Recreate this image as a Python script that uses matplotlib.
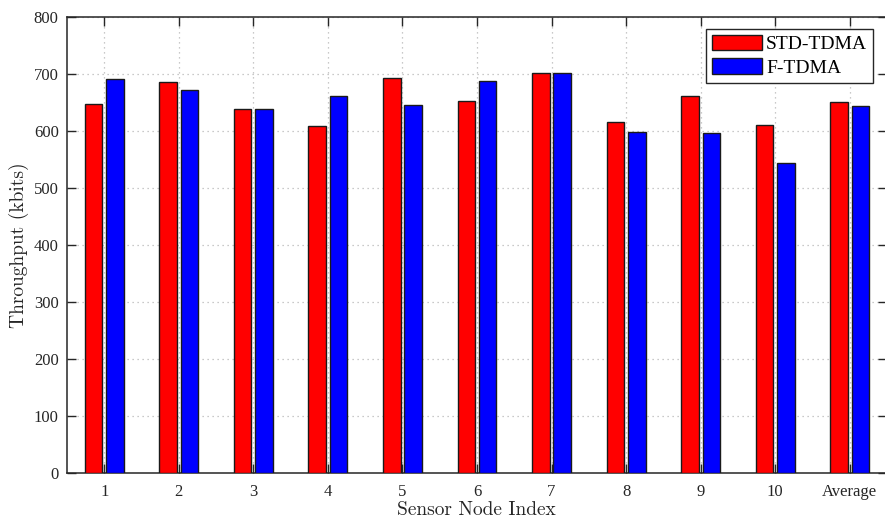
import matplotlib
matplotlib.use("Agg")
import matplotlib.pyplot as plt
import numpy as np

categories = ["1", "2", "3", "4", "5", "6", "7", "8", "9", "10", "Average"]
std_tdma = [647, 686, 639, 609, 693, 653, 702, 615, 662, 610, 651]
f_tdma = [691, 672, 639, 661, 646, 688, 701, 599, 596, 544, 643]
yticks = [0, 100, 200, 300, 400, 500, 600, 700, 800]

W, H = 885, 519
fig = plt.figure(figsize=(W / 100, H / 100), dpi=100)
ax_left, ax_right, ax_top, ax_bottom = 67, 887, 17, 473
ax = fig.add_axes([ax_left / W, (H - ax_bottom) / H, (ax_right - ax_left) / W,
                   (ax_bottom - ax_top) / H])

x = np.arange(1, len(categories) + 1)
off = 0.143
bw = 0.235
ax.bar(x - off, std_tdma, bw, color="#ff0000", edgecolor="#1a1a1a", linewidth=1.0,
       label="STD-TDMA", zorder=3)
ax.bar(x + off, f_tdma, bw, color="#0000ff", edgecolor="#1a1a1a", linewidth=1.0,
       label="F-TDMA", zorder=3)

ax.set_xlim(0.5, 11.5)
ax.set_ylim(0, 800)
ax.set_xticks(x)
ax.set_xticklabels(categories)
ax.set_yticks(yticks)

tick_font = "Liberation Serif"
for lab in ax.get_xticklabels() + ax.get_yticklabels():
    lab.set_fontfamily(tick_font)
    lab.set_fontsize(12)
    lab.set_color("#262626")

ax.tick_params(direction="in", length=6.5, width=1.0, top=True, right=True,
               colors="#262626", pad=6)
ax.tick_params(axis="x", pad=8)

for s in ax.spines.values():
    s.set_color("#262626")
    s.set_linewidth(1.1)

ax.grid(True, linestyle=(0, (1, 3)), color="#b8b8b8", linewidth=0.9)
ax.set_axisbelow(True)

aw = ax_right - ax_left
ah = ax_bottom - ax_top
ax.set_xlabel("Sensor Node Index", fontfamily="cmr10", fontsize=14, color="#262626",
              va="top")
ax.xaxis.set_label_coords((476 - ax_left) / aw, (ax_bottom - 501) / ah)
ax.set_ylabel("Throughput (kbits)", fontfamily="cmr10", fontsize=14, color="#262626",
              va="center")
ax.yaxis.set_label_coords((19 - ax_left) / aw, (ax_bottom - 245) / ah)

leg = ax.legend(loc="upper right",
                bbox_to_anchor=((873 - ax_left) / aw, (ax_bottom - 29) / ah),
                prop={"family": tick_font, "size": 14}, frameon=True, fancybox=False,
                edgecolor="#262626", framealpha=1, handlelength=2.6, handleheight=0.85,
                handletextpad=0.2, borderpad=0.3, labelspacing=0.25, borderaxespad=0)
leg.get_frame().set_linewidth(1.0)

fig.savefig("out.png", dpi=100)
